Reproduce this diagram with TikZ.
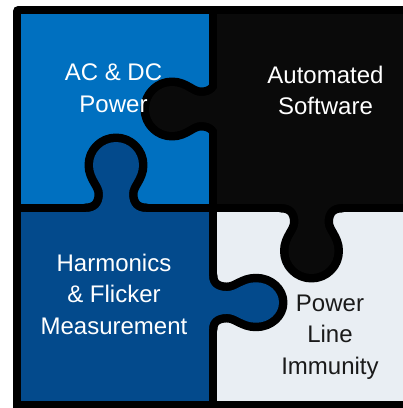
\documentclass[tikz,border=0pt]{standalone}
\usepackage{fontspec}
\setmainfont{Liberation Sans}
\definecolor{pzblue}{HTML}{0070C0}
\definecolor{pzdark}{HTML}{034A8C}
\definecolor{pzgrey}{HTML}{E9EEF3}
\definecolor{pzblack}{HTML}{0A0A0A}
\definecolor{pztext}{HTML}{1A1A1A}
\newcommand\puzzleknob[1]{%
  \fill[#1, preaction={draw=black, line width=17pt, line join=round}]
    (-30,-12) -- (-30,-4) .. controls (-20,-4) and (-13,2) .. (-13,14)
    .. controls (-13,24) and (-23,30) .. (-23,43)
    .. controls (-23,55.7) and (-12.7,66) .. (0,66)
    .. controls (12.7,66) and (23,55.7) .. (23,43)
    .. controls (23,30) and (13,24) .. (13,14)
    .. controls (13,2) and (20,-4) .. (30,-4) -- (30,-12) -- cycle;}
\tikzset{
  label/.style={align=center, font=\fontsize{24}{31.7}\selectfont, inner sep=0pt},
}
\begin{document}
\begin{tikzpicture}[x=1pt, y=-1pt]
\useasboundingbox (0,0) rectangle (403,408);
\clip (0,0) rectangle (403,408);
% frame
\fill[black, rounded corners=5] (13,6) rectangle (430,430);
% receiving pieces
\fill[pzblue] (21,14) rectangle (209,204);
\fill[pzgrey] (217,212) rectangle (420,401);
% knobs
\begin{scope}[shift={(215,109)}, x={(0pt,-1pt)}, y={(-1pt,0pt)}]
  \puzzleknob{pzblack}
\end{scope}
\begin{scope}[shift={(116,208)}, x={(1pt,0pt)}, y={(0pt,1pt)}]
  \puzzleknob{pzdark}
\end{scope}
\begin{scope}[shift={(311.5,208)}, x={(1pt,0pt)}, y={(0pt,-1pt)}]
  \puzzleknob{pzblack}
\end{scope}
\begin{scope}[shift={(213,302.5)}, x={(0pt,0.88pt)}, y={(1pt,0pt)}]
  \puzzleknob{pzdark}
\end{scope}
% giving pieces
\fill[pzblack] (217,14) rectangle (420,204);
\fill[pzdark] (21,212) rectangle (209,401);
% labels
\node[label, text=white] (acdc) at (113.5,87.9) {AC \& DC\\Power};
\node[label, text=white] (auto) at (325.5,90.5) {Automated\\Software};
\node[label, text=white] (harm) at (114,294.2) {Harmonics\\\& Flicker\hspace{7pt}\\Measurement};
\node[label, text=pztext] (pli) at (330,337.2) {Power\\Line\\Immunity};
\end{tikzpicture}
\end{document}
